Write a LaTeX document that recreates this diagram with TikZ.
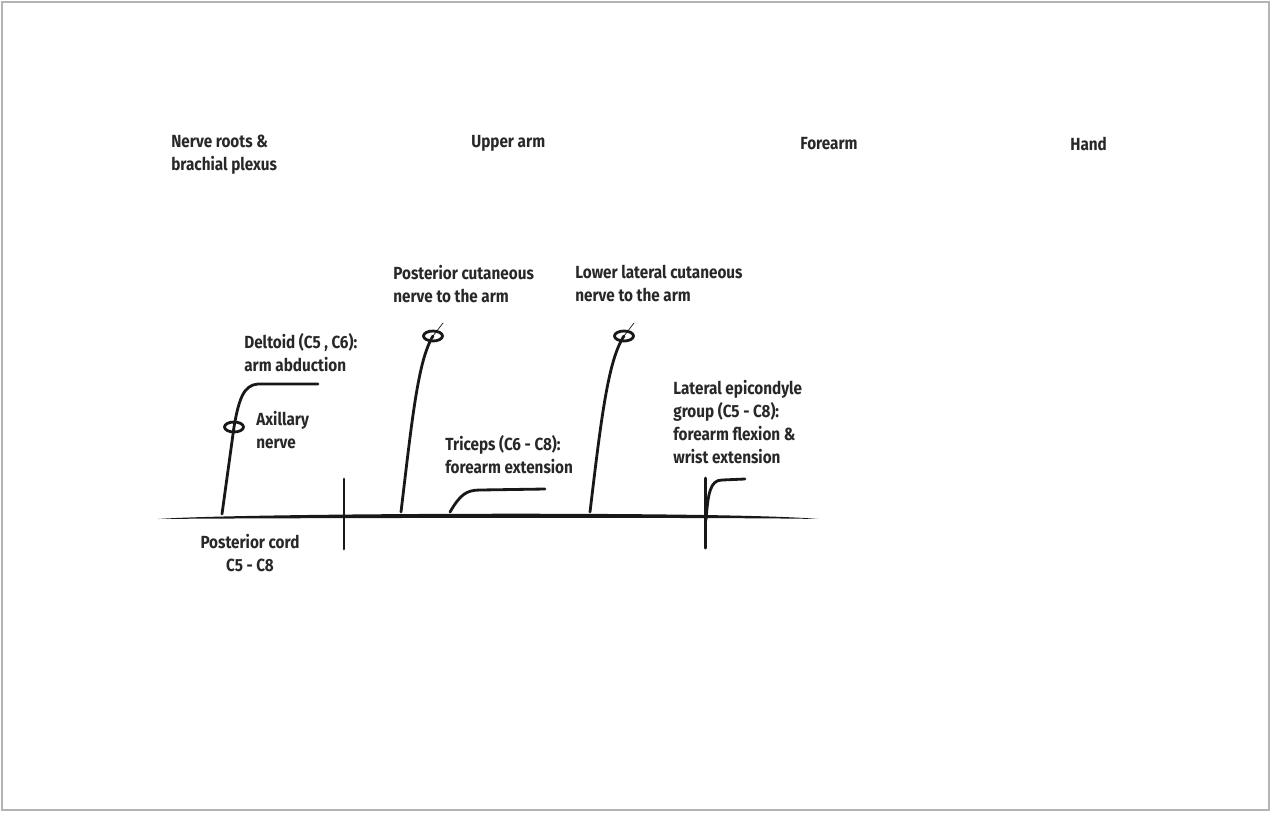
\documentclass[tikz,border=0pt]{standalone}
\usepackage{fontspec}
\setmainfont{Fira Sans}[FakeStretch=0.87]
\usetikzlibrary{positioning}
\definecolor{inkColor}{RGB}{24,24,24}
\definecolor{textColor}{RGB}{40,40,40}
\definecolor{frameColor}{RGB}{180,180,180}
\tikzstyle{sketch} = [x = 0.02cm, y = -0.02cm]
\tikzstyle{nerveLine} = [color=inkColor, line width=1.6pt, line cap=round]
\tikzstyle{thinLine} = [color=inkColor, line width=.4pt, line cap=round]
\tikzstyle{ringStyle} = [color=inkColor, line width=1.6pt]
\tikzstyle{labelText} = [font=\bfseries\fontsize{10}{13}\selectfont, text=textColor, align=left, inner sep=0, anchor=north west]
\newcommand{\nerveRing}[1]{\draw [ringStyle] (#1) ellipse (9.5 and 5);}
\newcommand{\levelTick}[1]{\draw [nerveLine, line width=1.7pt] (#1) ++(0,-37) -- ++(0,70);}

\begin{document}
\begin{tikzpicture}[sketch]
  \useasboundingbox (0,0) rectangle (1271,812);
  \draw [frameColor, line width=1.2pt] (2,2) rectangle (1269,810);

  % regions along the limb
  \node [labelText] (roots) at (171,135) {Nerve roots \&\\brachial plexus};
  \node [labelText] (upperArm) at (471,135) {Upper arm};
  \node [labelText] (forearm) at (800,137) {Forearm};
  \node [labelText] (hand) at (1070,137) {Hand};

  % posterior cord, tapering at both ends
  \coordinate (cordLeft) at (158,519);
  \coordinate (cordRight) at (818,519);
  \fill [inkColor] (cordLeft) .. controls (240,513) and (730,511) .. (cordRight)
                   .. controls (730,517) and (240,518) .. cycle;
  \coordinate (shoulder) at (344,516);
  \coordinate (elbow) at (705,515);
  \levelTick{shoulder}
  \levelTick{elbow}
  \node [labelText, align=center, anchor=north] (cord) at (250,534) {Posterior cord\\C5 - C8};

  % axillary nerve
  \coordinate (axillaryBase) at (222,514);
  \coordinate (axillaryRing) at (234,427);
  \coordinate (deltoid) at (318,384);
  \draw [nerveLine] (axillaryBase) .. controls (228,470) .. (axillaryRing)
                    .. controls (239,398) and (244,385) .. (258,384) -- (deltoid);
  \nerveRing{axillaryRing}
  \node [labelText] (deltoidText) at (244,333) {Deltoid (C5 , C6):\\arm abduction};
  \node [labelText] (axillaryText) at (256,411) {Axillary\\nerve};

  % posterior cutaneous nerve to the arm
  \coordinate (postBase) at (401,512);
  \coordinate (postRing) at (433,336);
  \draw [nerveLine] (postBase) .. controls (412,420) and (418,360) .. (postRing);
  \draw [thinLine] (postRing) -- ++(10,-13);
  \nerveRing{postRing}
  \node [labelText] (postText) at (393,265) {Posterior cutaneous\\nerve to the arm};

  % triceps
  \coordinate (tricepsBase) at (450,512);
  \coordinate (triceps) at (545,489);
  \draw [nerveLine] (tricepsBase) .. controls (460,495) and (466,490) .. (480,490) -- (triceps);
  \node [labelText] (tricepsText) at (445,435) {Triceps (C6 - C8):\\forearm extension};

  % lower lateral cutaneous nerve to the arm
  \coordinate (lowerBase) at (590,512);
  \coordinate (lowerRing) at (624,336);
  \draw [nerveLine] (lowerBase) .. controls (601,420) and (608,360) .. (lowerRing);
  \draw [thinLine] (lowerRing) -- ++(10,-13);
  \nerveRing{lowerRing}
  \node [labelText] (lowerText) at (575,265) {Lower lateral cutaneous\\nerve to the arm};

  % lateral epicondyle group
  \coordinate (epiBase) at (706,520);
  \coordinate (epicondyle) at (745,479);
  \draw [nerveLine] (epiBase) .. controls (708,494) and (710,480) .. (722,480) -- (epicondyle);
  \node [labelText] (epiText) at (673,380) {Lateral epicondyle\\group (C5 - C8):\\forearm flexion \&\\wrist extension};
\end{tikzpicture}
\end{document}
